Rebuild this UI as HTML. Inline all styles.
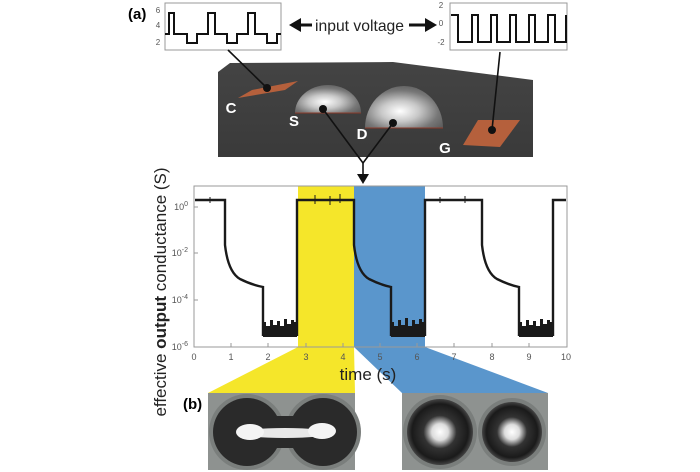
<!DOCTYPE html>
<html><head><meta charset="utf-8"><style>
html,body{margin:0;padding:0;background:#fff;width:700px;height:472px;overflow:hidden}
svg{display:block}
text{font-family:"Liberation Sans",sans-serif}
</style></head><body>
<svg width="700" height="472" viewBox="0 0 700 472" xmlns="http://www.w3.org/2000/svg">
<defs>
<linearGradient id="dev" x1="0" y1="0" x2="0" y2="1"><stop offset="0" stop-color="#444"/><stop offset="1" stop-color="#3a3a3a"/></linearGradient>
<radialGradient id="dome" cx="0.45" cy="0.6" r="0.7"><stop offset="0" stop-color="#fff"/><stop offset="0.35" stop-color="#c8c8c8"/><stop offset="0.7" stop-color="#777"/><stop offset="1" stop-color="#555"/></radialGradient>
<radialGradient id="ball" cx="0.5" cy="0.5" r="0.5"><stop offset="0" stop-color="#fff"/><stop offset="0.25" stop-color="#ddd"/><stop offset="0.5" stop-color="#333"/><stop offset="0.85" stop-color="#1a1a1a"/><stop offset="1" stop-color="#444"/></radialGradient>
</defs>

<text x="128" y="19" font-size="15" font-weight="bold">(a)</text>

<rect x="165" y="3" width="116" height="47" fill="#fff" stroke="#999" stroke-width="1"/>
<text x="158" y="13" font-size="8" fill="#555" text-anchor="middle">6</text>
<text x="158" y="28" font-size="8" fill="#555" text-anchor="middle">4</text>
<text x="158" y="45" font-size="8" fill="#555" text-anchor="middle">2</text>
<polyline fill="none" stroke="#111" stroke-width="2" points="165,34 169,34 169,13 174,13 174,34 187,34 187,43 197,43 197,34 208,34 208,13 215,13 215,34 227,34 227,43 237,43 237,34 248,34 248,13 255,13 255,34 267,34 267,43 277,43 277,34 281,34"/>

<rect x="450" y="3" width="117" height="47" fill="#fff" stroke="#999" stroke-width="1"/>
<text x="441" y="8" font-size="8" fill="#555" text-anchor="middle">2</text>
<text x="441" y="26" font-size="8" fill="#555" text-anchor="middle">0</text>
<text x="441" y="45" font-size="8" fill="#555" text-anchor="middle">-2</text>
<polyline fill="none" stroke="#111" stroke-width="2" points="451,15 458,15 458,42 472,42 472,15 478,15 478,42 491,42 491,15 497,15 497,42 510,42 510,15 516,15 516,42 529,42 529,15 535,15 535,42 548,42 548,15 555,15 555,42 566,42 566,15"/>

<text x="315" y="31" font-size="16" fill="#222" textLength="89" lengthAdjust="spacingAndGlyphs">input voltage</text>
<line x1="298" y1="25" x2="312" y2="25" stroke="#111" stroke-width="3"/>
<polygon points="289,25 301,18 301,32" fill="#111"/>
<line x1="409" y1="25" x2="426" y2="25" stroke="#111" stroke-width="3"/>
<polygon points="437,25 425,18 425,32" fill="#111"/>

<polygon points="218,72 230,63 393,62 533,80 533,157 218,157" fill="url(#dev)"/>
<polygon points="238,98 252,90 298,81 285,90" fill="#b5603c"/>
<polygon points="463,145 478,120 520,120 500,147" fill="#b5603c"/>
<path d="M295,113 A33,28 0 0 1 361,113 Z" fill="url(#dome)"/>
<line x1="295" y1="113" x2="361" y2="113" stroke="#8a3a2a" stroke-width="1"/>
<path d="M365,128 A39,42 0 0 1 443,128 Z" fill="url(#dome)"/>
<line x1="365" y1="128" x2="443" y2="128" stroke="#8a3a2a" stroke-width="1"/>
<text x="231" y="113" font-size="15" font-weight="bold" fill="#fff" text-anchor="middle">C</text>
<text x="294" y="126" font-size="15" font-weight="bold" fill="#fff" text-anchor="middle">S</text>
<text x="362" y="139" font-size="15" font-weight="bold" fill="#fff" text-anchor="middle">D</text>
<text x="445" y="153" font-size="15" font-weight="bold" fill="#fff" text-anchor="middle">G</text>

<g stroke="#111" stroke-width="1.6" fill="none">
<line x1="228" y1="50" x2="267" y2="88"/>
<line x1="500" y1="52" x2="492" y2="130"/>
<line x1="323" y1="109" x2="363" y2="163"/>
<line x1="393" y1="123" x2="363" y2="163"/>
<line x1="363" y1="163" x2="363" y2="176"/>
</g>
<polygon points="363,184 357,174 369,174" fill="#111"/>
<g fill="#111"><circle cx="267" cy="88" r="4"/><circle cx="492" cy="130" r="4"/><circle cx="323" cy="109" r="4"/><circle cx="393" cy="123" r="4"/></g>

<polygon points="298,347 354,347 355,393 208,393" fill="#f5e62a"/>
<polygon points="354,347 425,347 548,393 402,393" fill="#5a96cc"/>

<rect x="298" y="186" width="56" height="161" fill="#f5e62a"/>
<rect x="354" y="186" width="71" height="161" fill="#5a96cc"/>
<rect x="194" y="186" width="373" height="161" fill="none" stroke="#999" stroke-width="1"/>
<g stroke="#999" stroke-width="1">
<line x1="231" y1="343" x2="231" y2="347"/><line x1="268" y1="343" x2="268" y2="347"/><line x1="306" y1="343" x2="306" y2="347"/><line x1="343" y1="343" x2="343" y2="347"/><line x1="380" y1="343" x2="380" y2="347"/><line x1="417" y1="343" x2="417" y2="347"/><line x1="454" y1="343" x2="454" y2="347"/><line x1="492" y1="343" x2="492" y2="347"/><line x1="529" y1="343" x2="529" y2="347"/>
<line x1="194" y1="207" x2="198" y2="207"/><line x1="194" y1="253" x2="198" y2="253"/><line x1="194" y1="300" x2="198" y2="300"/>
</g>

<!-- trace -->
<g fill="none" stroke="#1a1a1a" stroke-width="2.4">
<path d="M195,200 H225 V245 Q228,272 240,279 Q252,285 263,287 V336 M297,336 V200 H354 V245 Q357,272 369,279 Q381,285 391,287 V336 M425,336 V200 H482 V245 Q485,272 497,279 Q509,285 519,287 V336 M553,336 V200 H566"/>
</g>
<g fill="#1a1a1a">
<polygon points="263,337 263,322 266,322 266,326 270,326 270,320 273,320 273,325 277,325 277,321 280,321 280,326 284,326 284,319 287,319 287,324 291,324 291,320 294,320 294,322 297,322 297,337"/>
<polygon points="391,337 391,322 394,322 394,326 398,326 398,320 401,320 401,325 405,325 405,318 408,318 408,326 412,326 412,320 415,320 415,324 419,324 419,319 422,319 422,322 425,322 425,337"/>
<polygon points="519,337 519,322 522,322 522,326 526,326 526,320 529,320 529,325 533,325 533,321 536,321 536,326 540,326 540,319 543,319 543,324 547,324 547,320 550,320 550,322 553,322 553,337"/>
</g>
<g stroke="#1a1a1a" stroke-width="1">
<line x1="315" y1="195" x2="315" y2="204"/><line x1="330" y1="196" x2="330" y2="205"/><line x1="340" y1="194" x2="340" y2="203"/><line x1="210" y1="197" x2="210" y2="203"/><line x1="440" y1="197" x2="440" y2="203"/><line x1="465" y1="196" x2="465" y2="203"/>
</g>

<g font-size="9" fill="#555" text-anchor="end">
<text x="188" y="210">10<tspan dy="-4" font-size="7">0</tspan></text>
<text x="188" y="256">10<tspan dy="-4" font-size="7">-2</tspan></text>
<text x="188" y="303">10<tspan dy="-4" font-size="7">-4</tspan></text>
<text x="188" y="350">10<tspan dy="-4" font-size="7">-6</tspan></text>
</g>
<g font-size="9" fill="#555" text-anchor="middle">
<text x="194" y="360">0</text><text x="231" y="360">1</text><text x="268" y="360">2</text><text x="306" y="360">3</text><text x="343" y="360">4</text><text x="380" y="360">5</text><text x="417" y="360">6</text><text x="454" y="360">7</text><text x="492" y="360">8</text><text x="529" y="360">9</text><text x="566" y="360">10</text>
</g>
<text x="368" y="380" font-size="17" text-anchor="middle" fill="#222">time (s)</text>
<text transform="translate(166,292) rotate(-90)" font-size="17" text-anchor="middle" fill="#222">effective <tspan font-weight="bold">output</tspan> conductance (S)</text>

<text x="183" y="409" font-size="15" font-weight="bold">(b)</text>
<rect x="208" y="393" width="147" height="77" fill="#8e9290"/>
<circle cx="247" cy="432" r="38" fill="#7a7e7c"/><circle cx="323" cy="432" r="38" fill="#7a7e7c"/>
<circle cx="247" cy="432" r="34" fill="#2a2a2a"/><circle cx="323" cy="432" r="34" fill="#2a2a2a"/>
<rect x="250" y="416" width="70" height="32" fill="#2a2a2a"/>
<ellipse cx="285" cy="433" rx="45" ry="5" fill="#e8e8e8"/>
<ellipse cx="250" cy="432" rx="14" ry="8" fill="#f4f4f4"/>
<ellipse cx="322" cy="431" rx="14" ry="8" fill="#f4f4f4"/>
<rect x="402" y="393" width="146" height="77" fill="#8e9290"/>
<circle cx="440" cy="432" r="37" fill="#7a7e7c"/><circle cx="512" cy="432" r="34" fill="#7a7e7c"/>
<circle cx="440" cy="432" r="33" fill="url(#ball)"/><circle cx="512" cy="432" r="30" fill="url(#ball)"/>
</svg>
</body></html>
